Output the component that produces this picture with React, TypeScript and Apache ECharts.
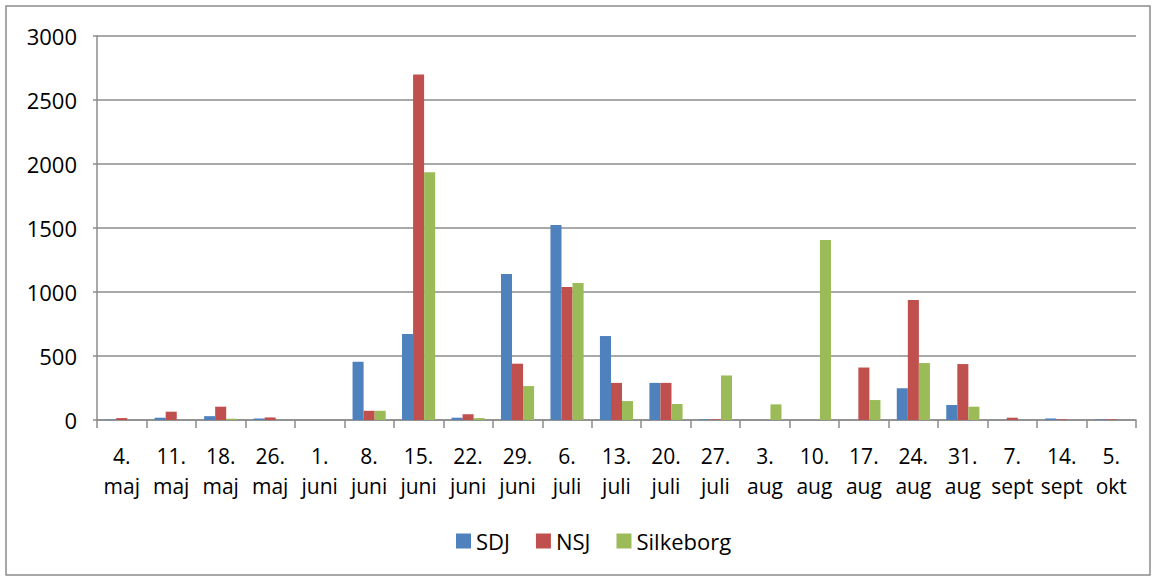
import React, { useEffect, useRef } from "react";
import * as echarts from "echarts";

const categories = [
  "4.\nmaj", "11.\nmaj", "18.\nmaj", "26.\nmaj", "1.\njuni", "8.\njuni", "15.\njuni",
  "22.\njuni", "29.\njuni", "6.\njuli", "13.\njuli", "20.\njuli", "27.\njuli", "3.\naug",
  "10.\naug", "17.\naug", "24.\naug", "31.\naug", "7.\nsept", "14.\nsept", "5.\nokt",
];
const sdj = [3, 18, 30, 12, 0, 455, 672, 18, 1140, 1523, 656, 290, 5, 0, 0, 0, 248, 117, 0, 12, 5];
const nsj = [15, 65, 104, 20, 0, 72, 2700, 45, 440, 1040, 290, 290, 5, 0, 0, 410, 937, 437, 18, 5, 5];
const silkeborg = [0, 0, 10, 0, 0, 72, 1935, 15, 265, 1070, 148, 125, 348, 122, 1406, 156, 445, 104, 0, 0, 0];
const yTicks = { min: 0, max: 3000, interval: 500 };

const FONT = "Open Sans";

export default function App() {
  const ref = useRef<HTMLDivElement>(null);
  useEffect(() => {
    const chart = echarts.init(ref.current!, undefined, { renderer: "svg" });
    const mk = (name: string, data: number[], color: string) => ({
      name,
      type: "bar",
      data,
      barGap: "0%",
      barCategoryGap: "33%",
      itemStyle: { color },
    });
    chart.setOption({
      animation: false,
      textStyle: { fontFamily: FONT },
      graphic: [
        {
          type: "rect",
          shape: { x: 6, y: 6, width: 1144, height: 569 },
          style: { fill: "none", stroke: "#8c8c8c", lineWidth: 1.5 },
          silent: true,
        },
      ],
      grid: { left: 97, right: 21, top: 36, bottom: 161, containLabel: false },
      legend: {
        bottom: 24,
        left: 451,
        itemWidth: 15,
        itemHeight: 15,
        itemGap: 26,
        icon: "rect",
        textStyle: { fontFamily: FONT, fontSize: 22, color: "#000" },
        data: ["SDJ", "NSJ", "Silkeborg"],
      },
      xAxis: {
        type: "category",
        data: categories,
        axisLine: { lineStyle: { color: "#8c8c8c", width: 1.5 } },
        axisTick: { show: true, length: 8, lineStyle: { color: "#8c8c8c", width: 1.5 } },
        axisLabel: { fontFamily: FONT, fontSize: 21, color: "#000", lineHeight: 30, margin: 21, interval: 0 },
      },
      yAxis: {
        type: "value",
        min: yTicks.min,
        max: yTicks.max,
        interval: yTicks.interval,
        axisLine: { show: true, lineStyle: { color: "#8c8c8c", width: 1.5 } },
        axisTick: { show: true, length: 4, lineStyle: { color: "#8c8c8c", width: 1.5 } },
        splitLine: { lineStyle: { color: "#8c8c8c", width: 1.5 } },
        axisLabel: {
          fontFamily: FONT,
          fontSize: 22,
          color: "#000",
          margin: 20,
          formatter: (v: number) => String(v),
        },
      },
      series: [
        mk("SDJ", sdj, "#4F81BD"),
        mk("NSJ", nsj, "#C0504D"),
        mk("Silkeborg", silkeborg, "#9BBB59"),
      ],
    });
    return () => chart.dispose();
  }, []);
  return (
    <div
      ref={ref}
      style={{ position: "fixed", left: 0, top: 0, width: 1157, height: 581, background: "#fff" }}
    />
  );
}
